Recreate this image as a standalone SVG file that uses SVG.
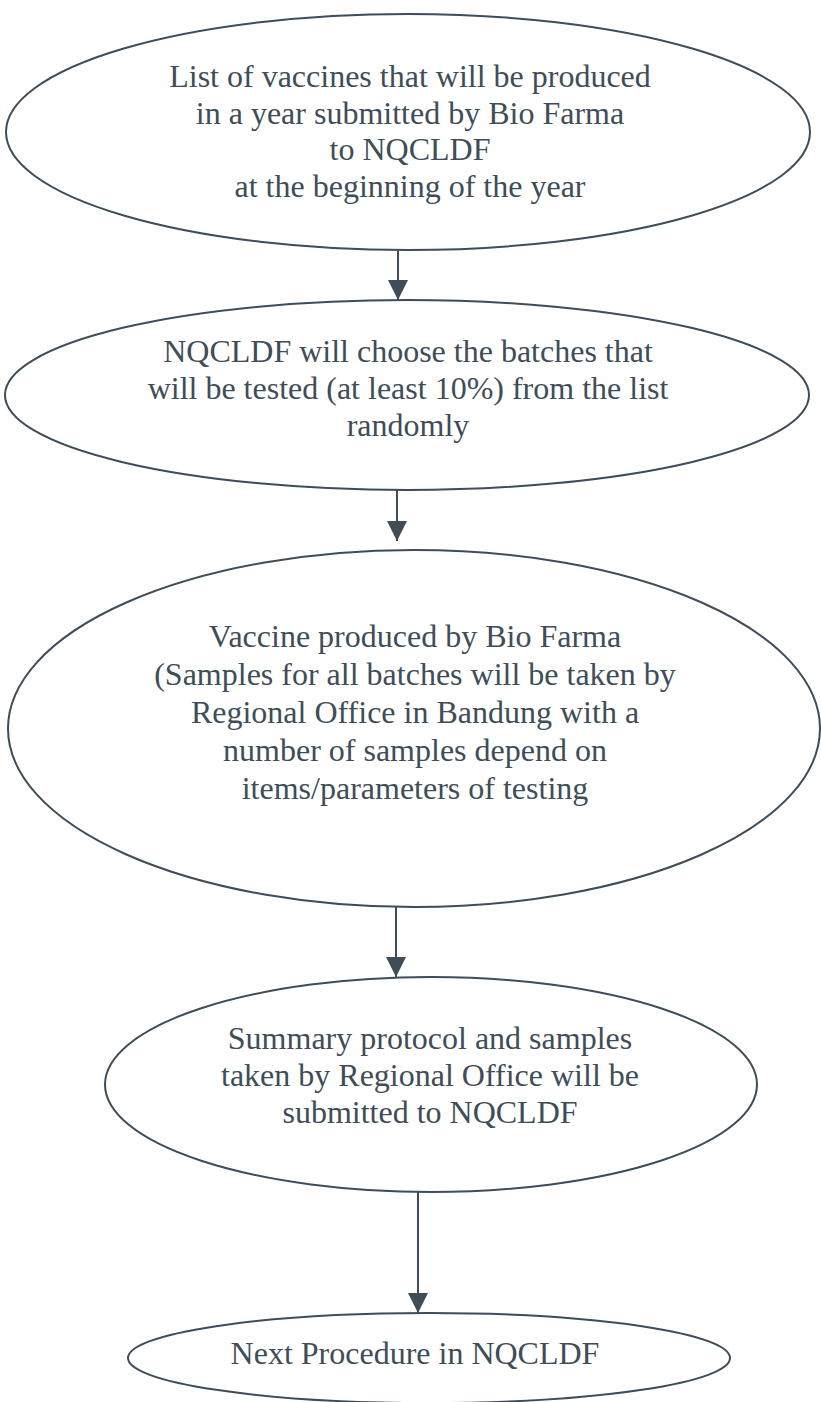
<svg xmlns="http://www.w3.org/2000/svg" width="821" height="1402" viewBox="0 0 821 1402">
<style>
.node ellipse{fill:none;stroke:#3e4d58;stroke-width:2}
.node text{font-family:"Liberation Serif","Times New Roman",serif;font-size:32px;fill:#3e4d58;text-anchor:middle}
.conn line{stroke:#3e4d58;stroke-width:2}
</style>
<defs>
<marker id="ah" viewBox="0 0 20 20" refX="20" refY="10" markerWidth="20" markerHeight="20" orient="auto" markerUnits="userSpaceOnUse">
<path d="M0,0 L20,10 L0,20 Z" fill="#3e4d58"/>
</marker>
</defs>
<rect width="821" height="1402" fill="#ffffff"/>
<g id="connectors" class="conn">
<line x1="398" y1="251" x2="398" y2="300" marker-end="url(#ah)"/>
<line x1="397" y1="490" x2="397" y2="541" marker-end="url(#ah)"/>
<line x1="396" y1="907" x2="396" y2="977" marker-end="url(#ah)"/>
<line x1="418" y1="1192" x2="418" y2="1313" marker-end="url(#ah)"/>
</g>
<g id="node1" class="node">
<ellipse cx="408" cy="132" rx="402" ry="118"/>
<text x="410" y="87">List of vaccines that will be produced</text>
<text x="410" y="124">in a year submitted by Bio Farma</text>
<text x="410" y="160">to NQCLDF</text>
<text x="410" y="197">at the beginning of the year</text>
</g>
<g id="node2" class="node">
<ellipse cx="407" cy="395" rx="402" ry="95"/>
<text x="408" y="362">NQCLDF will choose the batches that</text>
<text x="408" y="399">will be tested (at least 10%) from the list</text>
<text x="408" y="436">randomly</text>
</g>
<g id="node3" class="node">
<ellipse cx="414" cy="728.5" rx="406" ry="178.5"/>
<text x="415" y="647">Vaccine produced by Bio Farma</text>
<text x="415" y="685">(Samples for all batches will be taken by</text>
<text x="415" y="723">Regional Office in Bandung with a</text>
<text x="415" y="761">number of samples depend on</text>
<text x="415" y="799">items/parameters of testing</text>
</g>
<g id="node4" class="node">
<ellipse cx="431" cy="1084.5" rx="326" ry="107.5"/>
<text x="430" y="1049">Summary protocol and samples</text>
<text x="430" y="1086">taken by Regional Office will be</text>
<text x="430" y="1123">submitted to NQCLDF</text>
</g>
<g id="node5" class="node">
<ellipse cx="429" cy="1358" rx="301" ry="45"/>
<text x="415" y="1364">Next Procedure in NQCLDF</text>
</g>
</svg>
